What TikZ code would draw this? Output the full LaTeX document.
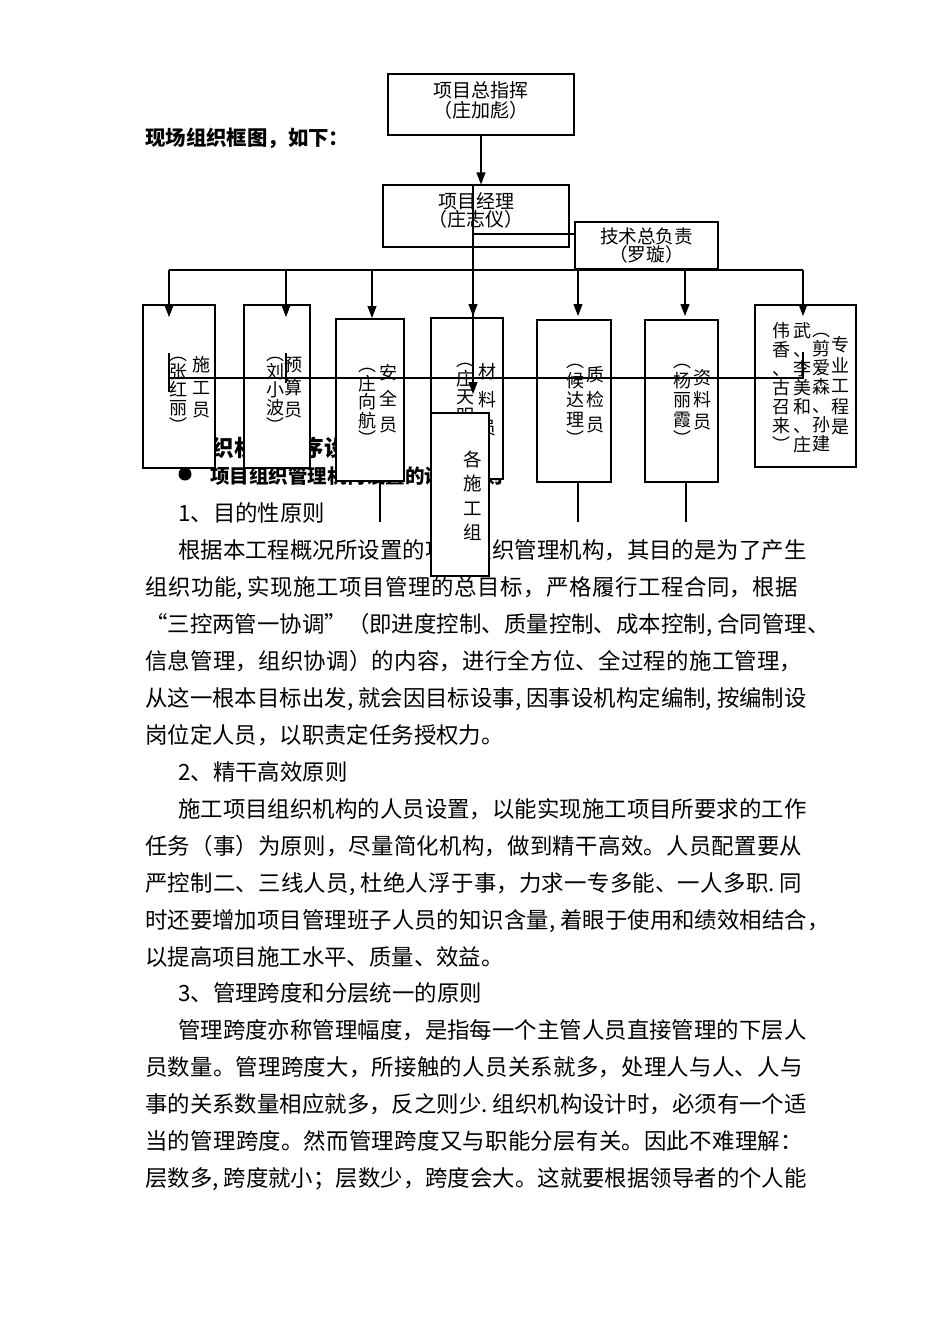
\documentclass[tikz,border=0pt]{standalone}
\usepackage{fontspec}
\setmainfont{Noto Sans CJK SC}
\usetikzlibrary{arrows.meta}
\XeTeXlinebreaklocale "zh"
\XeTeXlinebreakskip=0pt plus 3pt\relax
\setlength\parindent{0pt}
\newcommand\hc[1]{\makebox[0.5em][l]{#1}}
\newcommand\ho[1]{\makebox[0.5em][r]{#1}}
\newcommand\vs{\rule{0pt}{0.89em}}
\newcommand\vd{\rule[-0.13em]{0pt}{0.13em}}
\newcommand\sz[2]{\fontsize{#1}{#2}\selectfont}

\begin{document}
\begin{tikzpicture}[x=1pt,y=-1pt,
  box/.style={draw,fill=white,line width=1.1pt,inner sep=0pt},
  lbl/.style={inner sep=0pt,align=center},
  vcol/.style={inner sep=0pt,align=center},
  para/.style={inner sep=0pt,anchor=base west,font=\sz{22.4}{37}},
  just/.style={para,text width=#1pt},
  head/.style={inner sep=0pt,anchor=base west},
  arr/.style={-{Triangle[length=12pt,width=9pt]},line width=1.1pt},
  conn/.style={line width=1.1pt}
]
\fill[white] (0,0) rectangle (950,1344);
\useasboundingbox (0,0) rectangle (950,1344);

\node[head,font=\bfseries\sz{20.4}{22}] (title) at (145,145.8) {现场组织框图，如下：};
\node[head,font=\bfseries\sz{22.5}{24}] (secA) at (189,456.6) {组织机构程序设计};
\node[circle,fill,inner sep=0pt,minimum size=13pt] (dot) at (185,474) {};
\node[head,font=\bfseries\sz{19.5}{21}] (secB) at (210,483) {项目组织管理机构设置的设计原则};

\node[para] (p1) at (178,521.5) {1、目的性原则};
\node[just=629] (p2) at (178,558.5) {\parfillskip=0pt\relax 根据本工程概况所设置的项目组织管理机构，其目的是为了产生\par};
\node[just=662] (p3) at (145,595.5) {\parfillskip=0pt\relax 组织功能\hc{,}实现施工项目管理的总目标，严格履行工程合同，根据\par};
\node[just=685] (p4) at (145,632.5) {\parfillskip=0pt\relax “三控两管一协调”（即进度控制、质量控制、成本控制\hc{,}合同管理、\par};
\node[just=662] (p5) at (145,669.5) {\parfillskip=0pt\relax 信息管理，组织协调）的内容，进行全方位、全过程的施工管理，\par};
\node[just=662] (p6) at (145,706.5) {\parfillskip=0pt\relax 从这一根本目标出发\hc{,}就会因目标设事\hc{,}因事设机构定编制\hc{,}按编制设\par};
\node[para] (p7) at (145,743.5) {岗位定人员，以职责定任务授权力。};
\node[para] (p8) at (178,780.5) {2、精干高效原则};
\node[just=629] (p9) at (178,817.5) {\parfillskip=0pt\relax 施工项目组织机构的人员设置，以能实现施工项目所要求的工作\par};
\node[just=662] (p10) at (145,854.5) {\parfillskip=0pt\relax 任务（事）为原则，尽量简化机构，做到精干高效。人员配置要从\par};
\node[just=662] (p11) at (145,891) {\parfillskip=0pt\relax 严控制二、三线人员\hc{,}杜绝人浮于事，力求一专多能、一人多职\hc{.}同\par};
\node[just=685] (p12) at (145,928) {\parfillskip=0pt\relax 时还要增加项目管理班子人员的知识含量\hc{,}着眼于使用和绩效相结合，\par};
\node[para] (p13) at (145,965) {以提高项目施工水平、质量、效益。};
\node[para] (p14) at (178,1001.5) {3、管理跨度和分层统一的原则};
\node[just=629] (p15) at (178,1038.5) {\parfillskip=0pt\relax 管理跨度亦称管理幅度，是指每一个主管人员直接管理的下层人\par};
\node[just=662] (p16) at (145,1075.5) {\parfillskip=0pt\relax 员数量。管理跨度大，所接触的人员关系就多，处理人与人、人与\par};
\node[just=662] (p17) at (145,1112.5) {\parfillskip=0pt\relax 事的关系数量相应就多，反之则少\hc{.}组织机构设计时，必须有一个适\par};
\node[just=662] (p18) at (145,1149.5) {\parfillskip=0pt\relax 当的管理跨度。然而管理跨度又与职能分层有关。因此不难理解：\par};
\node[just=662] (p19) at (145,1186.5) {\parfillskip=0pt\relax 层数多\hc{,}跨度就小；层数少，跨度会大。这就要根据领导者的个人能\par};

\node[box,minimum width=186pt,minimum height=61pt] (cmd) at (481,104.5) {};
\node[lbl,font=\sz{19}{20}] (cmdT) at (481,100) {\vs 项目总指挥\\\ho{（}庄加彪\hc{）}\vd};
\node[box,minimum width=186pt,minimum height=62pt] (pm) at (476,216) {};
\node[lbl,font=\sz{19}{18}] (pmT) at (476,210) {\vs 项目经理\\\ho{（}庄志仪\hc{）}\vd};
\node[box,minimum width=143pt,minimum height=47pt] (tech) at (646.5,245.5) {};
\node[lbl,font=\sz{18.6}{18}] (techT) at (646.5,245) {\vs 技术总负责\\\ho{（}罗璇\hc{）}\vd};

\node[box,minimum width=72pt,minimum height=163pt] (sg) at (179,386.5) {};
\node[vcol,font=\sz{18}{22.5}] (sgR) at (201,387.5) {\vs 施\\工\\员\vd};
\node[vcol,font=\sz{18}{18}] (sgL) at (178,390) {\vs ︵\\张\\红\\丽\\︶\vd};
\node[box,minimum width=66pt,minimum height=163pt] (ys) at (277,386.5) {};
\node[vcol,font=\sz{18}{22.5}] (ysR) at (293,387.5) {\vs 预\\算\\员\vd};
\node[vcol,font=\sz{18}{18}] (ysL) at (275,390) {\vs ︵\\刘\\小\\波\\︶\vd};
\node[box,minimum width=68pt,minimum height=162pt] (aq) at (370,400) {};
\node[vcol,font=\sz{18}{26}] (aqR) at (388,399) {\vs 安\\全\\员\vd};
\node[vcol,font=\sz{18}{18.5}] (aqL) at (367,402) {\vs ︵\\庄\\向\\航\\︶\vd};
\node[box,minimum width=72pt,minimum height=161pt] (cl) at (467,398.5) {};
\node[vcol,font=\sz{18}{28}] (clR) at (487,400) {\vs 材\\料\\员\vd};
\node[vcol,font=\sz{18}{18.5}] (clL) at (465,397) {\vs ︵\\庄\\天\\明\\︶\vd};
\node[box,minimum width=74pt,minimum height=162pt] (zj) at (574,401) {};
\node[vcol,font=\sz{18}{25}] (zjR) at (595,400) {\vs 质\\检\\员\vd};
\node[vcol,font=\sz{18}{19.5}] (zjL) at (575,400) {\vs ︵\\候\\达\\理\\︶\vd};
\node[box,minimum width=73pt,minimum height=162pt] (zl) at (681.5,401) {};
\node[vcol,font=\sz{18}{22}] (zlR) at (702,400) {\vs 资\\料\\员\vd};
\node[vcol,font=\sz{18}{19.5}] (zlL) at (682,400) {\vs ︵\\杨\\丽\\霞\\︶\vd};
\node[box,minimum width=101pt,minimum height=162pt] (zy) at (805.5,386) {};
\node[vcol,font=\sz{18}{20.5}] (zy1) at (840,386) {\vs 专\\业\\工\\程\\是\vd};
\node[vcol,font=\sz{18}{19}] (zy2) at (821,387) {\vs ︵\\剪\\爱\\森\\、\\孙\\建\vd};
\node[vcol,font=\sz{18}{19}] (zy3) at (802,388) {\vs 武\\、\\李\\美\\和\\、\\庄\vd};
\node[vcol,font=\sz{18}{19}] (zy4) at (781,388) {\vs 伟\\香\\、\\古\\召\\来\\︶\vd};
\node[box,minimum width=58pt,minimum height=163pt] (grp) at (460,494.5) {};
\node[vcol,font=\sz{18.5}{24.5}] (grpT) at (473,495.75) {\vs 各\\施\\工\\组\vd};

\draw[arr] (cmd.south) -- (cmd.south |- pm.north);
\coordinate (gTip) at (473,394);
\draw[arr] (gTip |- pm.north) -- (gTip);
\coordinate (tk) at (575,234);
\draw[conn] (tk -| gTip) -- (tk);
\coordinate (busL) at (169,270);
\coordinate (busR) at (803,270);
\draw[conn] (busL) -- (busR);
\coordinate (a1) at (169,317);
\coordinate (a2) at (286,317);
\coordinate (a3) at (372,318);
\coordinate (a4) at (473,316);
\coordinate (a5) at (578,316);
\coordinate (a6) at (685,316);
\coordinate (a7) at (803,316);
\draw[arr] (a1 |- busL) -- (a1);
\draw[arr] (a2 |- busL) -- (a2);
\draw[arr] (a3 |- busL) -- (a3);
\draw[arr] (a4 |- busL) -- (a4);
\draw[arr] (a5 |- busL) -- (a5);
\draw[arr] (a6 |- busL) -- (a6);
\draw[arr] (a7 |- busL) -- (a7);
\coordinate (xL) at (169,378);
\coordinate (xR) at (803,378);
\draw[conn] (xL) -- (xR);
\draw[conn] (169,353) -- (169,392);
\draw[conn] (286,353) -- (286,383);
\draw[conn] (803,352) -- (803,379);
\coordinate (d3) at (380,522);
\coordinate (d5) at (578,522);
\coordinate (d6) at (686,522);
\draw[conn] (d3 |- aq.south) -- (d3);
\draw[conn] (d5 |- zj.south) -- (d5);
\draw[conn] (d6 |- zl.south) -- (d6);
\end{tikzpicture}
\end{document}
